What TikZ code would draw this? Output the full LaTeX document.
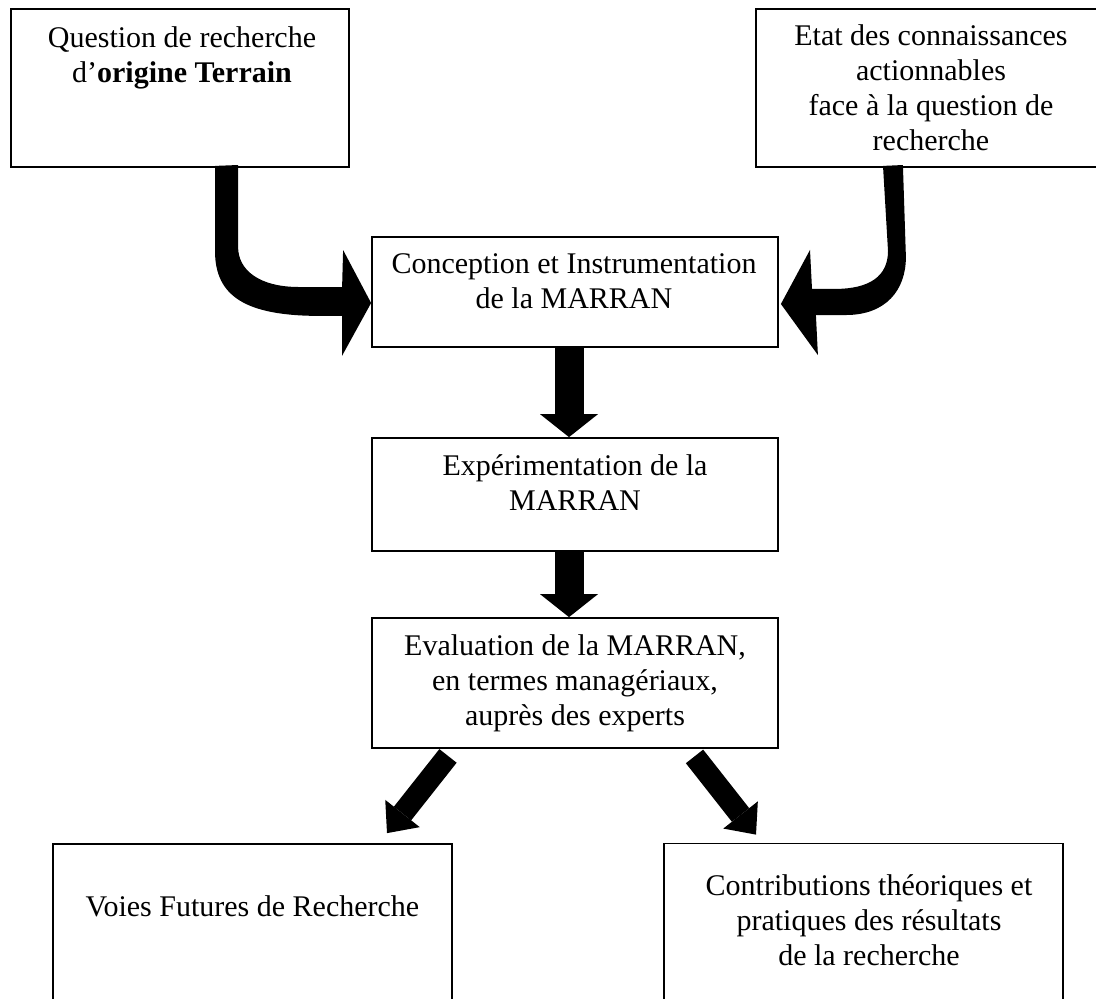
\documentclass[tikz,border=0pt]{standalone}
\usepackage{fontspec}
\setmainfont{Liberation Serif}
\usetikzlibrary{arrows.meta}
% centred lines whose baseline is the baseline of the first line
\newcommand{\stackedlines}[1]{\begin{tabular}[t]{@{}c@{}}#1\end{tabular}}
\begin{document}
\begin{tikzpicture}[x=0.5pt,y=-0.5pt,
  panel/.style={draw, line width=0.9pt, inner sep=0pt},
  boxtext/.style={anchor=base, inner sep=0pt, font=\fontsize{15}{17.6}\selectfont},
  flowarrow/.style={line width=14.5pt, -{Triangle[width=29pt,length=11.5pt,line width=0pt]}},
  brancharrow/.style={line width=11pt, -{Triangle[width=22pt,length=12.5pt,line width=0pt]}},
  curvedarrow/.style={fill=black}]
\useasboundingbox (0,0) rectangle (1096,998);
\clip (0,0) rectangle (1096,998);

% boxes
\node[panel, minimum width=169pt, minimum height=79pt] (q) at (180,88) {};
\node[panel, minimum width=175pt, minimum height=79pt] (s) at (931,88) {};
\node[panel, minimum width=203pt, minimum height=55pt] (c) at (575,292) {};
\node[panel, minimum width=203pt, minimum height=56.5pt] (e) at (575,494.5) {};
\node[panel, minimum width=203pt, minimum height=65pt] (v) at (575,683) {};
\node[panel, minimum width=199.5pt, minimum height=128pt] (f) at (252.5,972) {};
\node[panel, minimum width=199.5pt, minimum height=128pt] (r) at (863.5,971.5) {};

% texts
\node[boxtext] (tq) at (182,47) {\stackedlines{Question de recherche\\d’\textbf{origine Terrain}}};
\node[boxtext] (ts) at (931,45) {\stackedlines{Etat des connaissances\\actionnables\\face à la question de\\recherche}};
\node[boxtext] (tc) at (574,273) {\stackedlines{Conception et Instrumentation\\de la MARRAN}};
\node[boxtext] (te) at (575,475) {\stackedlines{Expérimentation de la\\MARRAN}};
\node[boxtext] (tv) at (575,655) {\stackedlines{Evaluation de la MARRAN,\\en termes managériaux,\\auprès des experts}};
\node[boxtext] (tf) at (252.5,916) {Voies Futures de Recherche};
\node[boxtext] (tr) at (869,895) {\stackedlines{Contributions théoriques et\\pratiques des résultats\\de la recherche}};

% bent arrow from the field question into the design box
\fill[curvedarrow] ([shift={(35,-2)}]q.south) -- ++(0,85)
  .. controls +(0,45) and +(-75,0) .. ++(105,65)
  -- ++(22,0) -- ++(0,40)
  -- ([shift={(0,11)}]c.west)
  -- ++(-28,-53) -- ++(-1,37) -- ++(-43,0)
  .. controls +(-40,0) and +(0,23) .. ++(-61,-40)
  -- ++(0,-82) -- cycle;

% bent arrow from the state of knowledge into the design box
\fill[curvedarrow] ([shift={(-48,-2)}]s.south) -- ++(5,85)
  .. controls +(0,25) and +(35,0) .. ++(-53,38)
  -- ++(-23,0) -- ++(-2,-39)
  -- ([shift={(2,12)}]c.east)
  -- ++(37,51) -- ++(-2,-40) -- ++(30,0)
  .. controls +(40,0) and +(0,33) .. ++(60,-58)
  -- ++(-3,-92) -- cycle;

% straight arrows down the chain
\draw[flowarrow] ([xshift=-3pt]c.south) -- ([xshift=-3pt]e.north);
\draw[flowarrow] ([xshift=-3pt]e.south) -- ([xshift=-3pt]v.north);

% branching arrows to the two outcomes
\draw[brancharrow] ([shift={(-127,7)}]v.south) -- ([shift={(134.5,-10)}]f.north);
\draw[brancharrow] ([shift={(119.5,7.5)}]v.south) -- ([shift={(-107.5,-8)}]r.north);
\end{tikzpicture}
\end{document}
